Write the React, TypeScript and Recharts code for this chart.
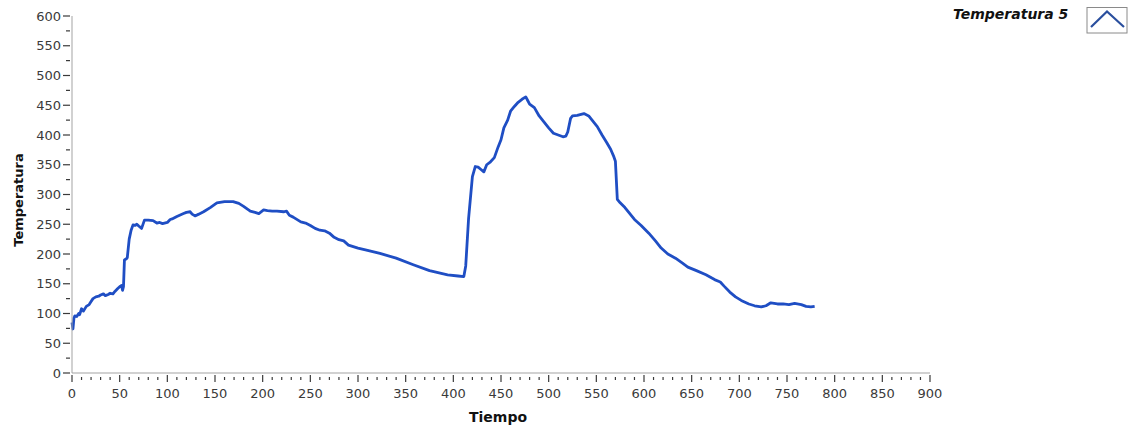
import React from 'react';
import { LineChart, Line, XAxis, YAxis } from 'recharts';

const times = [0,1,2,3,5,7,8,10,12,15,18,20,22,25,28,30,33,35,38,40,43,45,48,50,52,53,54,55,57,58,60,62,64,66,68,70,73,76,80,85,89,92,95,100,103,105,110,117,120,124,126,129,133,138,145,152,160,169,175,180,187,192,196,201,205,210,215,222,225,228,232,240,245,250,255,260,265,270,275,280,285,290,300,310,323,340,358,375,394,405,411,413,416,420,423,426,429,432,435,439,443,447,450,453,457,460,464,468,472,476,478,480,485,490,495,500,505,510,515,518,520,523,525,530,537,542,547,551,556,561,565,568,570,572,575,580,590,597,605,612,618,625,633,640,646,655,665,674,680,684,690,696,702,710,716,723,728,733,740,746,752,758,765,770,775,779];

const temperatura5 = [85,74,92,96,95,100,98,108,104,112,115,120,125,128,129,131,133,130,132,134,133,137,142,145,147,139,145,190,192,194,225,240,249,248,250,247,243,257,257,256,252,253,251,253,258,259,263,268,270,271,267,264,267,271,278,286,288,288,285,280,272,270,268,274,273,272,272,271,272,265,262,254,252,248,243,240,239,235,228,224,222,215,210,206,201,193,182,172,165,163,162,180,260,330,347,346,342,338,350,355,362,380,392,412,425,440,448,455,460,464,458,452,446,432,422,412,403,400,397,398,405,428,432,433,436,432,422,414,400,387,376,365,356,292,286,278,258,248,235,222,210,200,193,185,178,172,165,157,153,146,136,128,122,116,113,111,113,118,116,116,115,117,115,112,111,112];

const xMajorTicks = [0,50,100,150,200,250,300,350,400,450,500,550,600,650,700,750,800,850,900];
const yMajorTicks = [0,50,100,150,200,250,300,350,400,450,500,550,600];
const xAllTicks = Array.from({ length: 91 }, (_, i) => i * 10);
const yAllTicks = Array.from({ length: 25 }, (_, i) => i * 25);

const seriesName = 'Temperatura 5';
const xTitle = 'Tiempo';
const yTitle = 'Temperatura';

const data = times.map((t, i) => ({ t, v: temperatura5[i] }));

const FONT = '"DejaVu Sans", Verdana, sans-serif';
const FRAME = '#a3a3a3';
const TICK = '#3a3a3a';
const LINE = '#1f4ec4';

const XTick = (props: any) => {
  const { x, y, payload } = props;
  const v = payload.value;
  const major = xMajorTicks.includes(v);
  return (
    <g>
      <line x1={x} x2={x} y1={y + (major ? 2 : 4)} y2={y + (major ? 9 : 7)} stroke={TICK} strokeWidth={1.2} />
      {major && (
        <text x={x} y={y + 25} textAnchor="middle" fontSize={13} fontFamily={FONT} fill={TICK}>{v}</text>
      )}
    </g>
  );
};

const YTick = (props: any) => {
  const { x, y, payload } = props;
  const v = payload.value;
  const major = yMajorTicks.includes(v);
  return (
    <g>
      <line x1={x - (major ? 9 : 6)} x2={x - 2} y1={y} y2={y} stroke={TICK} strokeWidth={1.2} />
      {major && (
        <text x={x - 11} y={y + 4.5} textAnchor="end" fontSize={13} fontFamily={FONT} fill={TICK}>{v}</text>
      )}
    </g>
  );
};

export default function App() {
  return (
    <div style={{ position: 'absolute', left: 0, top: 0, width: 1138, height: 432, background: '#fff' }}>
      <LineChart
        width={1138}
        height={432}
        data={data}
        margin={{ top: 16, right: 208, left: 22, bottom: 19 }}
      >
        <XAxis
          dataKey="t"
          type="number"
          domain={[0, 900]}
          ticks={xAllTicks}
          interval={0}
          height={40}
          tickSize={0}
          tickMargin={0}
          tickLine={false}
          axisLine={{ stroke: FRAME }}
          tick={<XTick />}
        />
        <XAxis
          xAxisId="top"
          orientation="top"
          type="number"
          domain={[0, 900]}
          height={0}
          tick={false}
          tickLine={false}
          axisLine={{ stroke: FRAME }}
        />
        <YAxis
          type="number"
          domain={[0, 600]}
          ticks={yAllTicks}
          interval={0}
          width={50}
          tickSize={0}
          tickMargin={0}
          tickLine={false}
          axisLine={{ stroke: FRAME }}
          tick={<YTick />}
        />
        <YAxis
          yAxisId="right"
          orientation="right"
          type="number"
          domain={[0, 600]}
          width={0}
          tick={false}
          tickLine={false}
          axisLine={{ stroke: FRAME }}
        />
        <Line
          type="linear"
          dataKey="v"
          name={seriesName}
          stroke={LINE}
          strokeWidth={2.8}
          strokeLinejoin="round"
          dot={false}
          isAnimationActive={false}
        />
        <text x={498} y={422} textAnchor="middle" fontSize={14} fontWeight="bold" fontFamily={FONT} fill="#111">{xTitle}</text>
        <text x={18} y={200} transform="rotate(-90 18 200)" textAnchor="middle" dominantBaseline="central" fontSize={13} fontWeight="bold" fontFamily={FONT} fill="#111">{yTitle}</text>
        <g>
          <text x={953} y={19} fontSize={14} fontWeight="bold" fontStyle="italic" fontFamily={FONT} fill="#111">{seriesName}</text>
          <rect x={1087} y={7.5} width={40} height={25.5} fill="#fff" stroke="#8a8a8a" strokeWidth={1} />
          <polyline points="1091,27 1107,11.5 1124,27" fill="none" stroke="#2a4f9e" strokeWidth={2.2} />
        </g>
      </LineChart>
    </div>
  );
}
